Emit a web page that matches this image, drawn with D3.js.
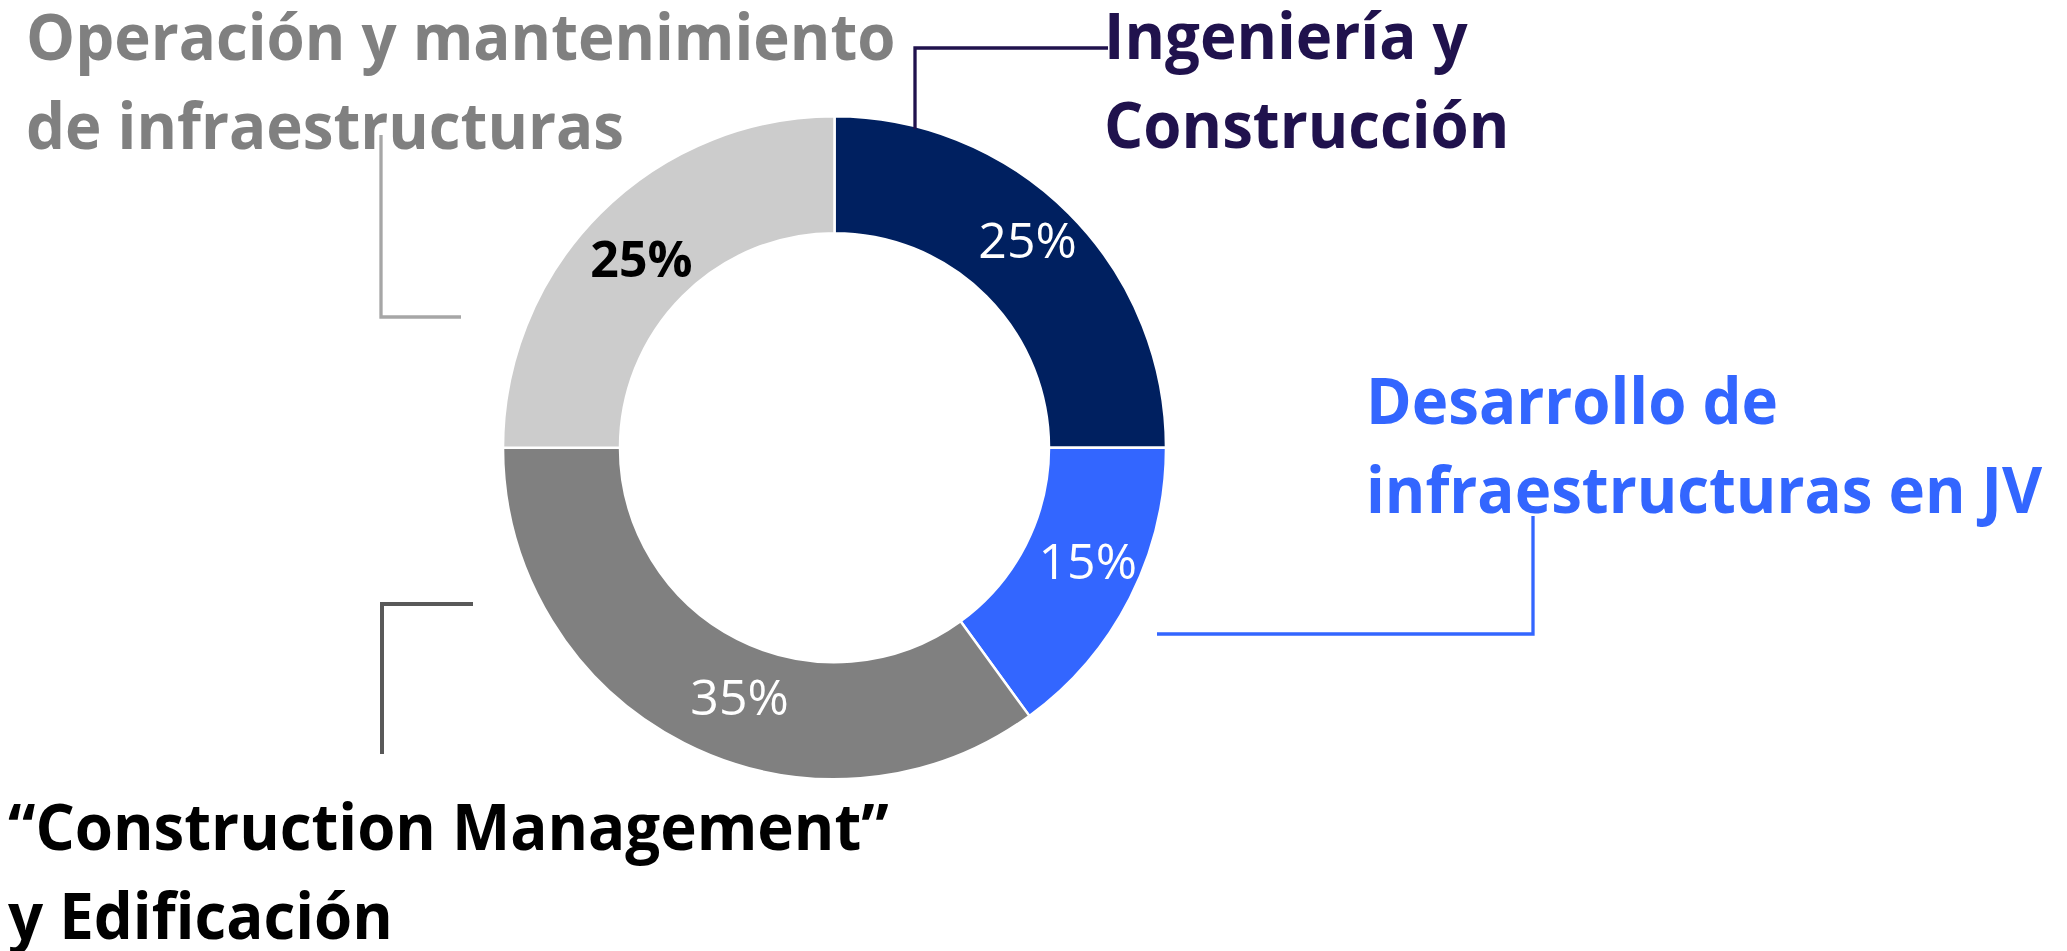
<!DOCTYPE html>
<html>
<head>
<meta charset="utf-8">
<script src="https://cdn.jsdelivr.net/npm/d3@7"></script>
<style>
  html, body { margin: 0; padding: 0; background: #fff; }
  svg { display: block; }
  text { font-family: "Open Sans", "Noto Sans", sans-serif; }
</style>
</head>
<body>
<svg id="chart"></svg>
<script>
// segments, clockwise from 12 o'clock
const segments = ['Ingeniería y Construcción', 'Desarrollo de infraestructuras en JV',
                  '“Construction Management” y Edificación', 'Operación y mantenimiento de infraestructuras'];
const shares = [25, 15, 35, 25];
const labelLines = [
    ['Ingeniería y', 'Construcción'],
    ['Desarrollo de', 'infraestructuras en JV'],
    ['“Construction Management”', 'y Edificación'],
    ['Operación y mantenimiento', 'de infraestructuras']
];

const sliceColors = ['#002060', '#3366FF', '#808080', '#CCCCCC'];
const valueColors = ['#fff', '#fff', '#fff', '#000'];
const nameColors = ['#20124D', '#3366FF', '#000000', '#808080'];
const leaderColors = ['#20124D', '#3366FF', '#595959', '#A6A6A6'];

// small shifts of the % labels off the slice centroid (as placed on the slide)
const valueNudge = [[0, -15], [10, -11], [29, 6], [0, 4]];

// hand placed callouts (text anchor + elbow leader), like the original slide
const callouts = [
    { x: 1104, y: 59, leader: [[915, 129], [915, 48], [1108, 48]] },
    { x: 1366, y: 424, leader: [[1157, 634], [1533, 634], [1533, 516]] },
    { x: 8, y: 850, leader: [[473, 604], [382, 604], [382, 754]] },
    { x: 26, y: 60, leader: [[381, 135], [381, 317], [461, 317]] }
];

const width = 2067, height = 951;
const cx = 834.5, cy = 447.7;
const outerR = 331.5, innerR = 214.5;
const lineGap = 89;
const condense = 0.965;

const svg = d3.select('#chart')
    .attr('width', width)
    .attr('height', height);

const pie = d3.pie().sort(null).value(d => d);
const arc = d3.arc().innerRadius(innerR).outerRadius(outerR);
const arcs = pie(shares);

const donut = svg.append('g').attr('transform', `translate(${cx},${cy})`);

donut.selectAll('path')
    .data(arcs)
    .enter()
    .append('path')
    .attr('d', arc)
    .attr('fill', (d, i) => sliceColors[i])
    .attr('stroke', '#fff')
    .attr('stroke-width', 2.5);

donut.selectAll('text')
    .data(arcs)
    .enter()
    .append('text')
    .attr('transform', (d, i) => {
        const [x, y] = arc.centroid(d);
        return `translate(${x + valueNudge[i][0]},${y + valueNudge[i][1]})`;
    })
    .attr('text-anchor', 'middle')
    .attr('dy', '0.36em')
    .attr('font-size', 50)
    .attr('font-weight', (d, i) => i === 3 ? 700 : 500)
    .attr('fill', (d, i) => valueColors[i])
    .text(d => `${d.data}%`);

// leader lines
svg.selectAll('polyline.leader')
    .data(callouts)
    .enter()
    .append('polyline')
    .attr('class', 'leader')
    .attr('points', d => d.leader.map(p => p.join(',')).join(' '))
    .attr('fill', 'none')
    .attr('stroke', (d, i) => leaderColors[i])
    .attr('stroke-width', (d, i) => i === 2 ? 4 : 3.3);

// category names
const names = svg.selectAll('g.name')
    .data(callouts)
    .enter()
    .append('g')
    .attr('class', 'name')
    .attr('transform', d => `translate(${d.x},${d.y}) scale(${condense},1)`);

names.append('text')
    .attr('font-size', 64)
    .attr('font-weight', 700)
    .attr('fill', (d, i) => nameColors[i])
    .selectAll('tspan')
    .data((d, i) => labelLines[i])
    .enter()
    .append('tspan')
    .attr('x', 0)
    .attr('y', (d, j) => j * lineGap)
    .text(d => d);
</script>
</body>
</html>
